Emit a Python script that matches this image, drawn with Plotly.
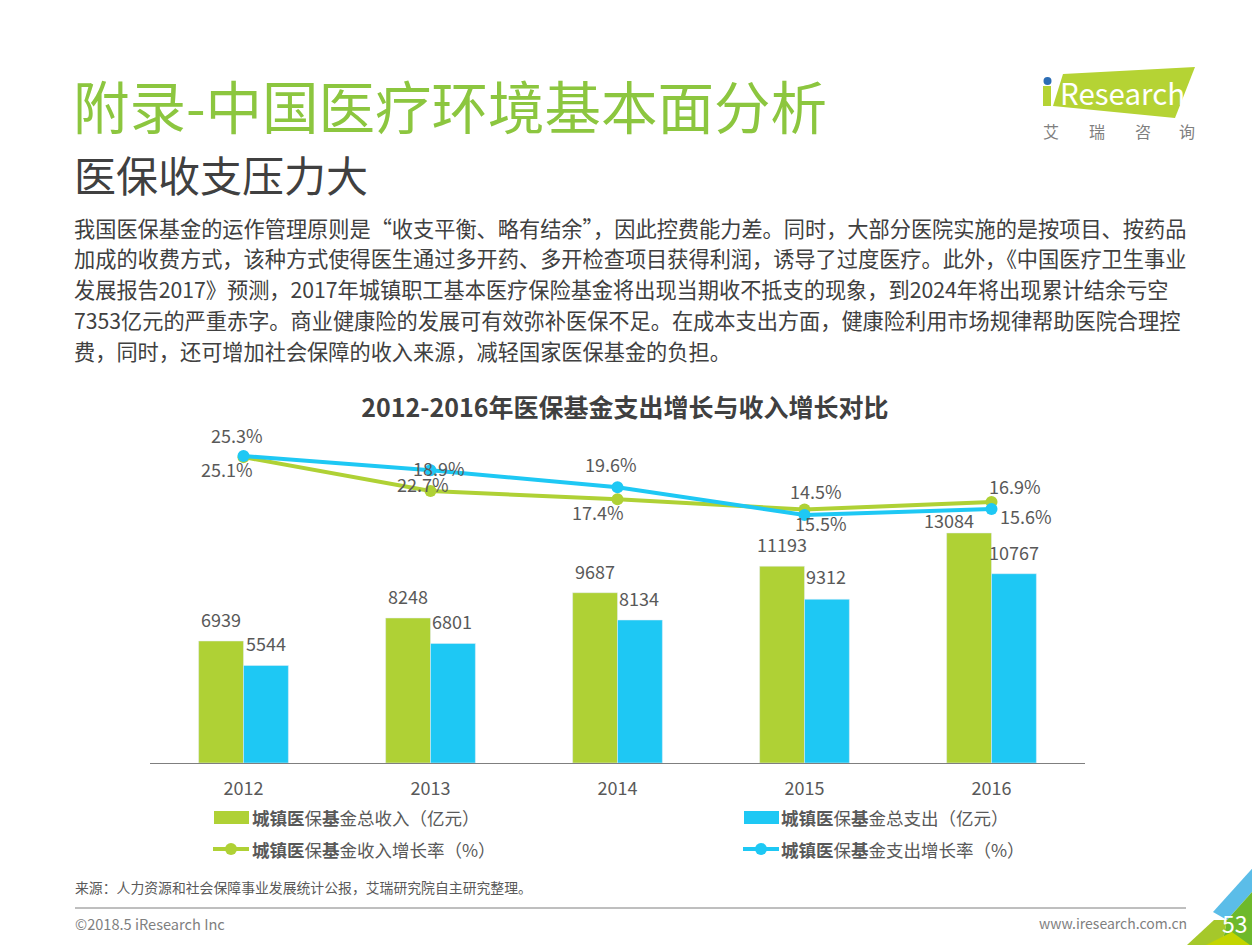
import plotly.graph_objects as go

# browser keeps an 8px body margin, so the figure is drawn 8px in from the corner
W = 1260
H = 945
MARGIN = 8
FONT = "Noto Sans CJK SC"
GREEN = "#AFD135"
BLUE = "#1EC8F4"
GREY = "#595959"

years = ["2012", "2013", "2014", "2015", "2016"]
income = [6939, 8248, 9687, 11193, 13084]
expense = [5544, 6801, 8134, 9312, 10767]
income_rate = [25.1, 18.9, 17.4, 15.5, 16.9]
expense_rate = [25.3, 22.7, 19.6, 14.5, 15.6]

# the source slide prints these next to the markers, 2013 and 2015 are swapped there
income_rate_labels = ["25.1%", "22.7%", "17.4%", "14.5%", "16.9%"]
expense_rate_labels = ["25.3%", "18.9%", "19.6%", "15.5%", "15.6%"]

title = "附录-中国医疗环境基本面分析"
subtitle = "医保收支压力大"
body_lines = [
    "我国医保基金的运作管理原则是“收支平衡、略有结余”，因此控费能力差。同时，大部分医院实施的是按项目、按药品",
    "加成的收费方式，该种方式使得医生通过多开药、多开检查项目获得利润，诱导了过度医疗。此外，《中国医疗卫生事业",
    "发展报告2017》预测，2017年城镇职工基本医疗保险基金将出现当期收不抵支的现象，到2024年将出现累计结余亏空",
    "7353亿元的严重赤字。商业健康险的发展可有效弥补医保不足。在成本支出方面，健康险利用市场规律帮助医院合理控",
    "费，同时，还可增加社会保障的收入来源，减轻国家医保基金的负担。",
]
chart_title = "2012-2016年医保基金支出增长与收入增长对比"
source = "来源：人力资源和社会保障事业发展统计公报，艾瑞研究院自主研究整理。"


def px(x):
    return (x - MARGIN) / (W - MARGIN)


def py(y):
    return 1 - (y - MARGIN) / (H - MARGIN)


annotations = []
shapes = []


def text(x, y, s, size, color=GREY, anchor="left"):
    annotations.append(dict(
        xref="paper", yref="paper", x=px(x), y=py(y), text=s, showarrow=False,
        xanchor=anchor, yanchor="middle", align=anchor,
        font=dict(family=FONT, size=size, color=color),
    ))


def polygon(points, color):
    path = "M" + "L".join(f"{px(a):.5f},{py(b):.5f}" for a, b in points) + "Z"
    shapes.append(dict(type="path", xref="paper", yref="paper", path=path,
                       fillcolor=color, line=dict(width=0)))


def rect(x0, y0, x1, y1, color):
    shapes.append(dict(type="rect", xref="paper", yref="paper",
                       x0=px(x0), x1=px(x1), y0=py(y0), y1=py(y1),
                       fillcolor=color, line=dict(width=0)))


def dot(x, y, r, color):
    shapes.append(dict(type="circle", xref="paper", yref="paper",
                       x0=px(x - r), x1=px(x + r), y0=py(y + r), y1=py(y - r),
                       fillcolor=color, line=dict(width=0)))


fig = go.Figure()
fig.add_trace(go.Bar(x=years, y=income, marker_color=GREEN, name="城镇医保基金总收入（亿元）"))
fig.add_trace(go.Bar(x=years, y=expense, marker_color=BLUE, name="城镇医保基金总支出（亿元）"))
fig.add_trace(go.Scatter(x=years, y=income_rate, yaxis="y2", mode="lines+markers",
                         line=dict(color=GREEN, width=4), marker=dict(color=GREEN, size=12),
                         name="城镇医保基金收入增长率（%）"))
fig.add_trace(go.Scatter(x=years, y=expense_rate, yaxis="y2", mode="lines+markers",
                         line=dict(color=BLUE, width=4), marker=dict(color=BLUE, size=12),
                         name="城镇医保基金支出增长率（%）"))

# data labels, hand placed like on the slide
income_shift = [(-23, 22), (-23, 22), (-23, 22), (-23, 22), (-43, 13)]
expense_shift = [(22, 23), (21, 22), (21, 22), (21, 23), (22, 22)]
for i, v in enumerate(income):
    dx, dy = income_shift[i]
    annotations.append(dict(x=i, y=v, xref="x", yref="y", text=str(v), showarrow=False,
                            xshift=dx, yshift=dy, font=dict(family=FONT, size=18, color=GREY)))
for i, v in enumerate(expense):
    dx, dy = expense_shift[i]
    annotations.append(dict(x=i, y=v, xref="x", yref="y", text=str(v), showarrow=False,
                            xshift=dx, yshift=dy, font=dict(family=FONT, size=18, color=GREY)))

income_label_shift = [(-17, -12), (-8, 7), (-20, -13), (11, 19), (23, 16)]
expense_label_shift = [(-7, 21), (8, 2), (-7, 23), (16, -8), (34, -7)]
for i, v in enumerate(income_rate):
    dx, dy = income_label_shift[i]
    annotations.append(dict(x=i, y=v, xref="x", yref="y2", text=income_rate_labels[i], showarrow=False,
                            xshift=dx, yshift=dy, font=dict(family=FONT, size=18, color=GREY)))
for i, v in enumerate(expense_rate):
    dx, dy = expense_label_shift[i]
    annotations.append(dict(x=i, y=v, xref="x", yref="y2", text=expense_rate_labels[i], showarrow=False,
                            xshift=dx, yshift=dy, font=dict(family=FONT, size=18, color=GREY)))

# page header
text(71, 104, title, 56.5, color="#8CC63F")
text(72, 173, subtitle, 42, color="#404040")
for line, y in zip(body_lines, [227, 258, 288, 319, 350]):
    text(72, y, line, 21.2, color="#404040")

# legend is wider than plotly's own swatches, so draw it
rect(214, 811, 249, 824, GREEN)
rect(744, 811, 779, 824, BLUE)
shapes.append(dict(type="line", xref="paper", yref="paper", x0=px(213), x1=px(249), y0=py(849), y1=py(849),
                   line=dict(color=GREEN, width=4)))
shapes.append(dict(type="line", xref="paper", yref="paper", x0=px(743), x1=px(779), y0=py(849), y1=py(849),
                   line=dict(color=BLUE, width=4)))
dot(231, 849, 6, GREEN)
dot(761, 849, 6, BLUE)
text(250, 817, "<b>城镇医</b>保<b>基</b>金总收入（亿元）", 17.5)
text(779, 817, "<b>城镇医</b>保<b>基</b>金总支出（亿元）", 17.5)
text(250, 849, "<b>城镇医</b>保<b>基</b>金收入增长率（%）", 17.5)
text(779, 849, "<b>城镇医</b>保<b>基</b>金支出增长率（%）", 17.5)

# footer
text(73, 887, source, 13.85)
shapes.append(dict(type="line", xref="paper", yref="paper", x0=px(75), x1=px(1186), y0=py(908), y1=py(908),
                   line=dict(color="#7F7F7F", width=1)))
text(73, 923, "©2018.5 iResearch Inc", 14.6, color="#7F7F7F")
text(1189, 923, "www.iresearch.com.cn", 14, color="#7F7F7F", anchor="right")

# corner decoration
polygon([(1260, 860), (1260, 883), (1227, 920), (1213, 912)], "#5BBDE8")
polygon([(1260, 883), (1260, 945), (1222, 945), (1227, 920)], "#6EB92B")
polygon([(1214, 920), (1227, 920), (1222, 945), (1187, 945)], "#A5C82A")
polygon([(1206, 945), (1232, 932), (1250, 945)], "#C3D500")
text(1235, 923, "53", 23, color="white", anchor="center")

# logo
polygon([(1063, 74), (1195, 67), (1175, 118), (1053, 106)], "#B5D334")
polygon([(1043, 86), (1051, 86), (1051, 106), (1043, 106)], "#B5D334")
dot(1047.5, 81, 4, "#2C6DB5")
text(1058, 92, "Research", 29.5, color="white")
for ch, x in zip("艾瑞咨询", [1051, 1097, 1143, 1187]):
    text(x, 131, ch, 16, color="#7F7F7F", anchor="center")

fig.update_layout(
    width=W - MARGIN,
    height=H - MARGIN,
    margin=dict(l=0, r=0, t=0, b=0),
    paper_bgcolor="white",
    plot_bgcolor="white",
    showlegend=False,
    barmode="group",
    bargap=0.52,
    bargroupgap=0,
    font=dict(family=FONT, color=GREY),
    title=dict(text="<b>" + chart_title + "</b>", x=px(625), y=py(408), xanchor="center", yanchor="middle",
               font=dict(family=FONT, size=25, color="#404040")),
    xaxis=dict(type="category", domain=[px(150), px(1085)], range=[-0.5, 4.5], autorange=False,
               showline=True, linecolor="#7F7F7F", linewidth=1, ticklabelstandoff=9,
               showgrid=False, ticks="", tickfont=dict(family=FONT, size=18, color=GREY)),
    yaxis=dict(domain=[py(763), py(400)], range=[0, 20648], visible=False, showgrid=False),
    yaxis2=dict(domain=[py(763), py(400)], overlaying="y", range=[-30.9, 35.56], visible=False, showgrid=False),
    annotations=annotations,
    shapes=shapes,
)

fig.write_html("out.html")
